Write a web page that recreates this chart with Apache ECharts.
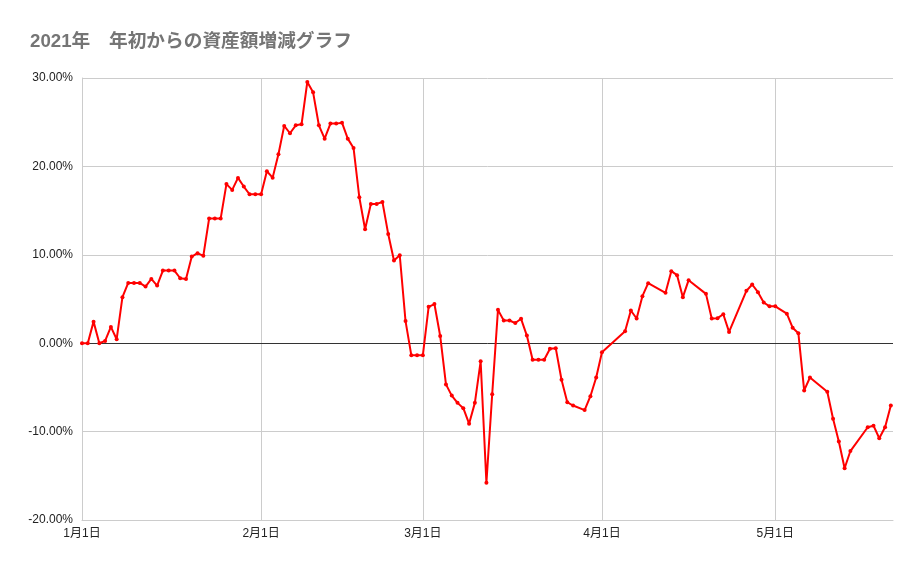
<!DOCTYPE html>
<html>
<head>
<meta charset="utf-8">
<script src="https://cdn.jsdelivr.net/npm/echarts@6/dist/echarts.min.js"></script>
<style>html,body{margin:0;padding:0;background:#fff;}#c{width:921px;height:569px;}</style>
</head>
<body>
<div id="c"></div>
<script>
var titleText = '2021年　年初からの資産額増減グラフ';
var dates = [
'2021-01-01','2021-01-02','2021-01-03','2021-01-04','2021-01-05','2021-01-06','2021-01-07','2021-01-08','2021-01-09','2021-01-10',
'2021-01-11','2021-01-12','2021-01-13','2021-01-14','2021-01-15','2021-01-16','2021-01-17','2021-01-18','2021-01-19','2021-01-20',
'2021-01-21','2021-01-22','2021-01-23','2021-01-24','2021-01-25','2021-01-26','2021-01-27','2021-01-28','2021-01-29','2021-01-30','2021-01-31',
'2021-02-01','2021-02-02','2021-02-03','2021-02-04','2021-02-05','2021-02-06','2021-02-07','2021-02-08','2021-02-09','2021-02-10',
'2021-02-11','2021-02-12','2021-02-13','2021-02-14','2021-02-15','2021-02-16','2021-02-17','2021-02-18','2021-02-19','2021-02-20',
'2021-02-21','2021-02-22','2021-02-23','2021-02-24','2021-02-25','2021-02-26','2021-02-27','2021-02-28',
'2021-03-01','2021-03-02','2021-03-03','2021-03-04','2021-03-05','2021-03-06','2021-03-07','2021-03-08','2021-03-09','2021-03-10',
'2021-03-11','2021-03-12','2021-03-13','2021-03-14','2021-03-15','2021-03-16','2021-03-17','2021-03-18','2021-03-19','2021-03-20',
'2021-03-21','2021-03-22','2021-03-23','2021-03-24','2021-03-25','2021-03-26','2021-03-27','2021-03-29','2021-03-30','2021-03-31',
'2021-04-01','2021-04-05','2021-04-06','2021-04-07','2021-04-08','2021-04-09','2021-04-12','2021-04-13','2021-04-14','2021-04-15','2021-04-16',
'2021-04-19','2021-04-20','2021-04-21','2021-04-22','2021-04-23','2021-04-26','2021-04-27','2021-04-28','2021-04-29','2021-04-30',
'2021-05-01','2021-05-03','2021-05-04','2021-05-05','2021-05-06','2021-05-07','2021-05-10','2021-05-11','2021-05-12','2021-05-13','2021-05-14',
'2021-05-17','2021-05-18','2021-05-19','2021-05-20','2021-05-21'
];
var values = [
0.00,0.00,2.44,0.00,0.26,1.84,0.45,5.20,6.82,6.82,
6.82,6.40,7.27,6.52,8.22,8.22,8.22,7.35,7.27,9.80,
10.18,9.88,14.10,14.10,14.10,18.00,17.34,18.70,17.72,16.85,16.85,
16.85,19.45,18.73,21.37,24.58,23.75,24.65,24.76,29.55,28.38,
24.65,23.14,24.84,24.84,24.95,23.14,22.09,16.51,12.89,15.76,
15.76,15.98,12.36,9.35,9.95,2.50,-1.35,-1.35,
-1.35,4.12,4.43,0.82,-4.66,-5.93,-6.75,-7.35,-9.10,-6.75,
-2.05,-15.78,-5.78,3.77,2.57,2.57,2.28,2.76,0.86,-1.87,
-1.87,-1.87,-0.63,-0.56,-4.14,-6.68,-7.05,-7.57,-6.00,-3.88,
-1.03,1.36,3.70,2.79,5.32,6.79,5.70,8.15,7.70,5.21,7.13,
5.58,2.79,2.83,3.28,1.28,5.92,6.64,5.77,4.60,4.17,
4.17,3.34,1.75,1.12,-5.34,-3.88,-5.49,-8.54,-11.12,-14.14,-12.20,
-9.51,-9.33,-10.75,-9.51,-7.05
];
var yTicks = [-20, -10, 0, 10, 20, 30];

var seriesData = dates.map(function (d, i) { return [d, values[i]]; });
var chart = echarts.init(document.getElementById('c'));
chart.setOption({
  animation: false,
  backgroundColor: '#fff',
  title: {
    text: titleText,
    left: 25, top: 28,
    textStyle: { fontSize: 18.7, fontWeight: 'bold', color: '#757575', fontFamily: '"Liberation Sans", "Noto Sans CJK JP", sans-serif' }
  },
  grid: { left: 82, right: 28, top: 78, bottom: 49, containLabel: false },
  xAxis: {
    type: 'time',
    min: new Date(2021, 0, 1).getTime(),
    max: new Date(2021, 4, 21, 9).getTime(),
    minInterval: 27 * 86400000,
    maxInterval: 32 * 86400000,
    axisLine: { onZero: false, lineStyle: { color: '#cccccc', width: 1 } },
    axisTick: { show: false },
    splitLine: { show: true, showMinLine: true, showMaxLine: false, lineStyle: { color: '#cccccc', width: 1 } },
    axisLabel: {
      formatter: '{M}月{d}日',
      color: '#222', fontSize: 12, margin: 8,
      fontFamily: '"Liberation Sans", "Noto Sans CJK JP", sans-serif',
      showMinLabel: true, hideOverlap: false
    }
  },
  yAxis: {
    type: 'value',
    min: yTicks[0], max: yTicks[yTicks.length - 1], interval: 10,
    axisLine: { show: true, lineStyle: { color: '#cccccc' } },
    axisTick: { show: false },
    splitLine: { show: true, lineStyle: { color: '#cccccc', width: 1 } },
    axisLabel: {
      formatter: function (v) { return v.toFixed(2) + '%'; },
      color: '#222', fontSize: 12, margin: 9,
      fontFamily: '"Liberation Sans", sans-serif'
    }
  },
  series: [{
    type: 'line',
    data: seriesData,
    color: '#ff0000',
    lineStyle: { color: '#ff0000', width: 2 },
    itemStyle: { color: '#ff0000' },
    symbol: 'circle',
    symbolSize: 4,
    showAllSymbol: true,
    z: 5,
    markLine: {
      silent: true,
      symbol: 'none',
      label: { show: false },
      lineStyle: { color: '#333333', width: 1, type: 'solid' },
      data: [{ yAxis: 0 }],
      z: 3
    }
  }]
});
</script>
</body>
</html>
